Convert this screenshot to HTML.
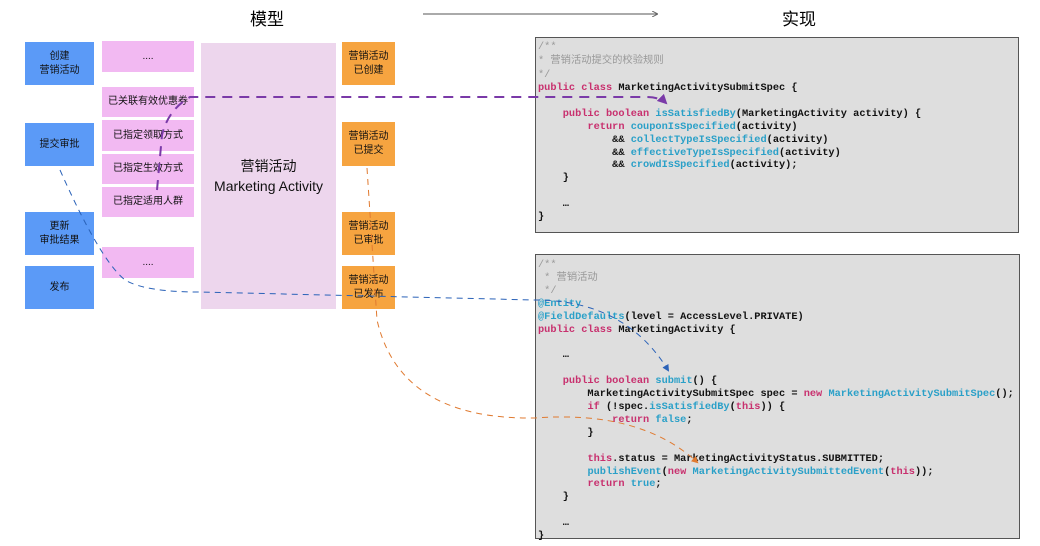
<!DOCTYPE html>
<html><head><meta charset="utf-8"><style>
body{margin:0;width:1040px;height:546px;background:#fff;position:relative;overflow:hidden;font-family:"Liberation Sans","Noto Sans CJK SC",sans-serif}
.b{position:absolute;display:flex;align-items:center;justify-content:center;text-align:center;font-size:10px;line-height:14px;color:#111}
.bl{background:#5b9af7;left:25px;width:69px}
.pk{background:#f2b9f2;left:102px;width:92px}
.or{background:#f6a440;left:342px;width:53px}
.code{position:absolute;background:#dedede;border:1px solid #555;font-family:"Liberation Mono","Noto Sans CJK SC",monospace;font-size:10.3px;line-height:12.9px;white-space:pre;color:#111;font-weight:bold;box-sizing:border-box;padding-left:2px}
.c{color:#999;font-weight:normal}.k{color:#c8306e}.f{color:#2aa0c8}
</style></head><body>
<div style="position:absolute;left:250px;top:5px;font-size:17px">模型</div>
<div style="position:absolute;left:782px;top:5px;font-size:17px">实现</div>
<div class="b bl" style="top:42px;height:43px">创建<br>营销活动</div>
<div class="b bl" style="top:123px;height:43px">提交审批</div>
<div class="b bl" style="top:212px;height:43px">更新<br>审批结果</div>
<div class="b bl" style="top:266px;height:43px">发布</div>
<div class="b pk" style="top:41px;height:31px">....</div>
<div class="b pk" style="top:87px;height:30px">已关联有效优惠券</div>
<div class="b pk" style="top:120px;height:31px">已指定领取方式</div>
<div class="b pk" style="top:154px;height:30px">已指定生效方式</div>
<div class="b pk" style="top:187px;height:30px">已指定适用人群</div>
<div class="b pk" style="top:247px;height:31px">....</div>
<div class="b" style="left:201px;top:43px;width:135px;height:266px;background:#edd6ed;font-size:14px;line-height:20px">营销活动<br>Marketing Activity</div>
<div class="b or" style="top:42px;height:43px">营销活动<br>已创建</div>
<div class="b or" style="top:122px;height:44px">营销活动<br>已提交</div>
<div class="b or" style="top:212px;height:43px">营销活动<br>已审批</div>
<div class="b or" style="top:266px;height:43px">营销活动<br>已发布</div>
<div class="code" style="left:535px;top:37px;width:484px;height:196px;padding-top:2px"><span class="c" style="line-height:14px">/**
* 营销活动提交的校验规则
*/</span>
<span class="k">public class</span> MarketingActivitySubmitSpec {

    <span class="k">public boolean</span> <span class="f">isSatisfiedBy</span>(MarketingActivity activity) {
        <span class="k">return</span> <span class="f">couponIsSpecified</span>(activity)
            &amp;&amp; <span class="f">collectTypeIsSpecified</span>(activity)
            &amp;&amp; <span class="f">effectiveTypeIsSpecified</span>(activity)
            &amp;&amp; <span class="f">crowdIsSpecified</span>(activity);
    }

    …
}</div>
<div class="code" style="left:535px;top:254px;width:485px;height:285px;padding-top:4px"><span class="c">/**
 * 营销活动
 */</span>
<span class="f">@Entity</span>
<span class="f">@FieldDefaults</span>(level = AccessLevel.PRIVATE)
<span class="k">public class</span> MarketingActivity {

    …

    <span class="k">public boolean</span> <span class="f">submit</span>() {
        MarketingActivitySubmitSpec spec = <span class="k">new</span> <span class="f">MarketingActivitySubmitSpec</span>();
        <span class="k">if</span> (!spec.<span class="f">isSatisfiedBy</span>(<span class="k">this</span>)) {
            <span class="k">return</span> <span class="f">false</span>;
        }

        <span class="k">this</span>.status = MarketingActivityStatus.SUBMITTED;
        <span class="f">publishEvent</span>(<span class="k">new</span> <span class="f">MarketingActivitySubmittedEvent</span>(<span class="k">this</span>));
        <span class="k">return</span> <span class="f">true</span>;
    }

    …
}</div>
<svg width="1040" height="546" style="position:absolute;left:0;top:0">
<defs>
<marker id="ap" markerWidth="5" markerHeight="5" refX="4" refY="2.5" orient="auto"><path d="M0,0L5,2.5L0,5z" fill="#7a3aa8"/></marker>
<marker id="ab" markerWidth="7" markerHeight="7" refX="5" refY="3.5" orient="auto"><path d="M0,0L7,3.5L0,7z" fill="#2a62b8"/></marker>
<marker id="ao" markerWidth="7" markerHeight="7" refX="5" refY="3.5" orient="auto"><path d="M0,0L7,3.5L0,7z" fill="#e07a30"/></marker>
<marker id="ag" markerWidth="6" markerHeight="6" refX="5" refY="3" orient="auto"><path d="M0,0L6,3L0,6" fill="none" stroke="#666"/></marker>
</defs>
<line x1="423" y1="14" x2="657" y2="14" stroke="#555" stroke-width="1" marker-end="url(#ag)"/>
<path d="M157,190 L162,135 Q168,110 190,97 L645,97 Q660,97 666,103" fill="none" stroke="#7a3aa8" stroke-width="2" stroke-dasharray="10,7" marker-end="url(#ap)"/>
<path d="M60,170 Q100,260 125,280 Q145,292 200,292 L535,300 Q625,300 668,370" fill="none" stroke="#2a62b8" stroke-width="1" stroke-dasharray="6,5" marker-end="url(#ab)"/>
<path d="M367,168 L377,320 Q400,420 535,418 Q640,410 697,462" fill="none" stroke="#e07a30" stroke-width="1" stroke-dasharray="6,5" marker-end="url(#ao)"/>
</svg>
</body></html>
